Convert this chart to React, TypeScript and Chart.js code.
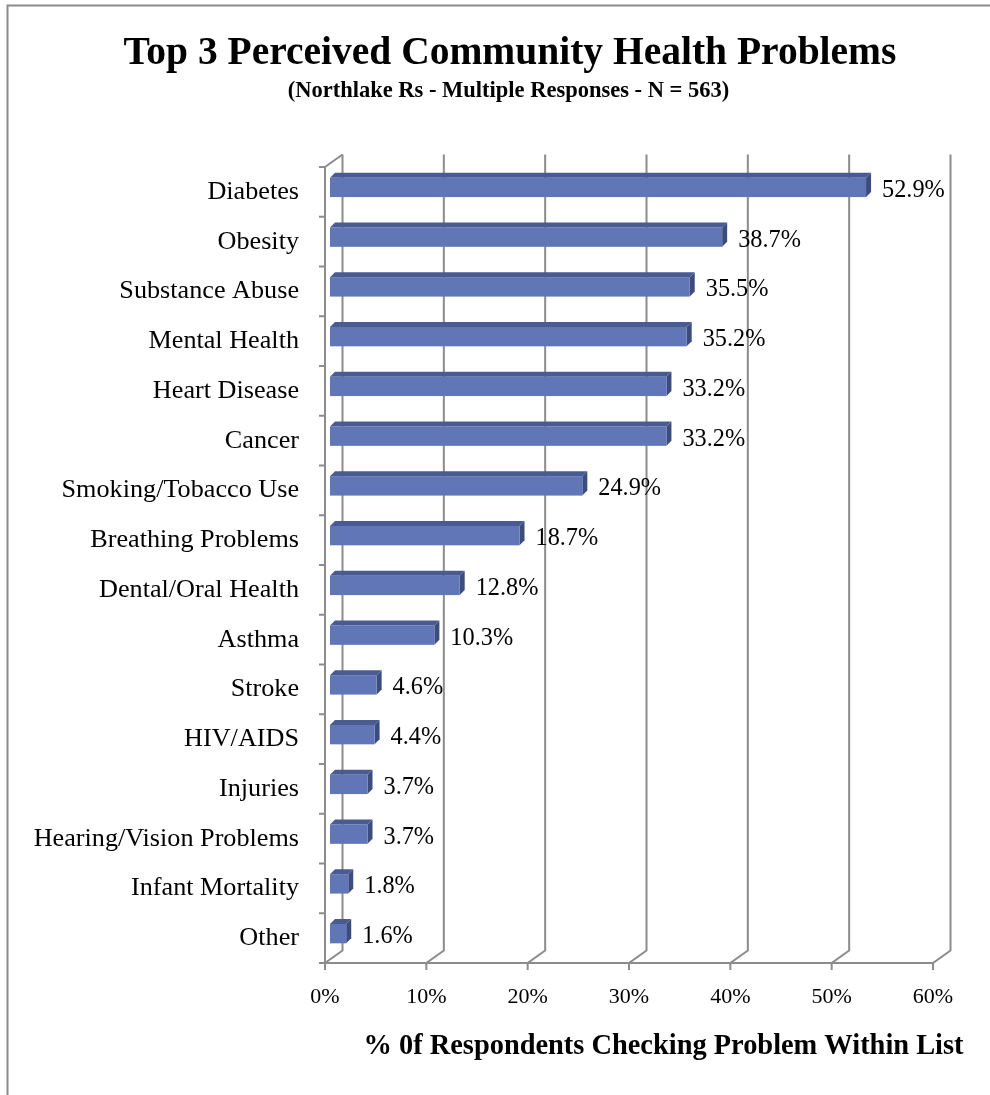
import React, { useEffect, useRef } from "react";
import { Chart, registerables } from "chart.js";

Chart.register(...registerables);

// ---- Data ----
const categories = [
  "Diabetes",
  "Obesity",
  "Substance Abuse",
  "Mental Health",
  "Heart Disease",
  "Cancer",
  "Smoking/Tobacco Use",
  "Breathing Problems",
  "Dental/Oral Health",
  "Asthma",
  "Stroke",
  "HIV/AIDS",
  "Injuries",
  "Hearing/Vision Problems",
  "Infant Mortality",
  "Other",
];
const values = [52.9, 38.7, 35.5, 35.2, 33.2, 33.2, 24.9, 18.7, 12.8, 10.3, 4.6, 4.4, 3.7, 3.7, 1.8, 1.6];
const xTickValues = [0, 10, 20, 30, 40, 50, 60];
const titleText = "Top 3 Perceived Community Health Problems";
const subtitleText = "(Northlake Rs - Multiple Responses - N = 563)";
const axisTitleText = "% 0f Respondents Checking Problem Within List";

// ---- Styles ----
const FONT = "'Liberation Serif', 'Times New Roman', serif";
const GRID = "#8c8c8c";
const DEPTH = { x: 17.5, y: -12.5 };
const BAR_OFF = { x: 5, y: -4.5 };
const BAR_DEPTH = { x: 5, y: -5 };
const FRONT = "#6076b7";
const TOP = "#4a5b92";
const SIDE = "#3c4c7c";

const threeD = {
  id: "threeD",
  beforeDraw(chart: any) {
    const ctx = chart.ctx;
    ctx.save();
    ctx.strokeStyle = "#8a8a8a";
    ctx.lineWidth = 2;
    ctx.beginPath();
    ctx.moveTo(7.5, 1095);
    ctx.lineTo(7.5, 5.5);
    ctx.lineTo(990, 5.5);
    ctx.stroke();
    // titles
    ctx.fillStyle = "#000";
    ctx.textAlign = "center";
    ctx.textBaseline = "alphabetic";
    ctx.font = `bold 39.5px ${FONT}`;
    ctx.fillText(titleText, 510, 64);
    ctx.font = `bold 22.5px ${FONT}`;
    ctx.fillText(subtitleText, 508.5, 97);
    ctx.restore();
  },
  beforeDatasetsDraw(chart: any) {
    const ctx = chart.ctx;
    const xs = chart.scales.x;
    const { top, bottom } = chart.chartArea;
    const x0 = xs.getPixelForValue(0);
    ctx.save();
    ctx.strokeStyle = GRID;
    ctx.lineWidth = 2;
    ctx.lineCap = "butt";
    // left wall
    ctx.beginPath();
    ctx.moveTo(x0 + DEPTH.x, top + DEPTH.y);
    ctx.lineTo(x0, top);
    ctx.lineTo(x0, bottom);
    ctx.stroke();
    // category ticks
    const n = categories.length;
    const band = (bottom - top) / n;
    ctx.beginPath();
    for (let i = 0; i <= n; i++) {
      const y = top + i * band;
      ctx.moveTo(x0 - 6, y);
      ctx.lineTo(x0, y);
    }
    ctx.stroke();
    // floor front edge
    const xEnd = xs.getPixelForValue(xTickValues[xTickValues.length - 1]);
    ctx.beginPath();
    ctx.moveTo(x0, bottom);
    ctx.lineTo(xEnd, bottom);
    ctx.stroke();
    // gridlines: tick mark + floor slant + back wall vertical
    xTickValues.forEach((v) => {
      const px = xs.getPixelForValue(v);
      ctx.beginPath();
      ctx.moveTo(px, bottom + 7);
      ctx.lineTo(px, bottom);
      ctx.lineTo(px + DEPTH.x, bottom + DEPTH.y);
      ctx.lineTo(px + DEPTH.x, top + DEPTH.y);
      ctx.stroke();
    });
    ctx.restore();
  },
  afterDatasetsDraw(chart: any) {
    const ctx = chart.ctx;
    const meta = chart.getDatasetMeta(0);
    ctx.save();
    meta.data.forEach((el: any, i: number) => {
      const p = el.getProps(["x", "y", "base", "height"], true);
      const l = p.base + BAR_OFF.x;
      const r = p.x + BAR_OFF.x;
      const t = p.y - p.height / 2 + BAR_OFF.y;
      const b = p.y + p.height / 2 + BAR_OFF.y;
      // side face
      ctx.fillStyle = SIDE;
      ctx.beginPath();
      ctx.moveTo(r, t);
      ctx.lineTo(r + BAR_DEPTH.x, t + BAR_DEPTH.y);
      ctx.lineTo(r + BAR_DEPTH.x, b + BAR_DEPTH.y);
      ctx.lineTo(r, b);
      ctx.closePath();
      ctx.fill();
      // top face
      ctx.fillStyle = TOP;
      ctx.beginPath();
      ctx.moveTo(l, t);
      ctx.lineTo(l + BAR_DEPTH.x, t + BAR_DEPTH.y);
      ctx.lineTo(r + BAR_DEPTH.x, t + BAR_DEPTH.y);
      ctx.lineTo(r, t);
      ctx.closePath();
      ctx.fill();
      // front face
      ctx.fillStyle = FRONT;
      ctx.fillRect(l, t, r - l, b - t);
      // value label
      ctx.fillStyle = "#000";
      ctx.font = `24.3px ${FONT}`;
      ctx.textAlign = "left";
      ctx.textBaseline = "middle";
      ctx.fillText(values[i].toFixed(1) + "%", r + BAR_DEPTH.x + 11, (t + b) / 2 + 3);
    });
    // axis title
    ctx.font = `bold 28.4px ${FONT}`;
    ctx.textAlign = "center";
    ctx.textBaseline = "alphabetic";
    ctx.fillStyle = "#000";
    ctx.fillText(axisTitleText, 663.5, 1054);
    ctx.restore();
  },
};

export default function App() {
  const ref = useRef<HTMLCanvasElement>(null);
  useEffect(() => {
    const chart = new Chart(ref.current as HTMLCanvasElement, {
      type: "bar",
      data: {
        labels: categories,
        datasets: [
          {
            data: values,
            backgroundColor: "rgba(0,0,0,0)",
            borderWidth: 0,
            categoryPercentage: 1,
            barPercentage: 0.39,
          },
        ],
      },
      options: {
        indexAxis: "y",
        responsive: false,
        animation: false,
        layout: { padding: { left: 0, right: 57, top: 167, bottom: 0 } },
        plugins: {
          legend: { display: false },
          tooltip: { enabled: false },
          title: { display: false },
        },
        scales: {
          x: {
            type: "linear",
            min: 0,
            max: 60,
            grid: { display: false, drawTicks: false },
            border: { display: false },
            afterFit: (s: any) => {
              s.height = 132;
            },
            afterBuildTicks: (s: any) => {
              s.ticks = xTickValues.map((v) => ({ value: v }));
            },
            ticks: {
              color: "#000",
              padding: 21.5,
              font: { family: FONT, size: 22 },
              callback: (v: any) => v + "%",
            },
          },
          y: {
            grid: { display: false, drawTicks: false },
            border: { display: false },
            afterFit: (s: any) => {
              s.width = 325;
            },
            ticks: {
              color: "#000",
              padding: 26,
              font: { family: FONT, size: 26.2 },
            },
          },
        },
      },
      plugins: [threeD],
    } as any);
    return () => chart.destroy();
  }, []);
  return (
    <div style={{ position: "absolute", left: 0, top: 0, width: 990, height: 1095, background: "#fff" }}>
      <canvas ref={ref} width={990} height={1095} style={{ display: "block" }} />
    </div>
  );
}
